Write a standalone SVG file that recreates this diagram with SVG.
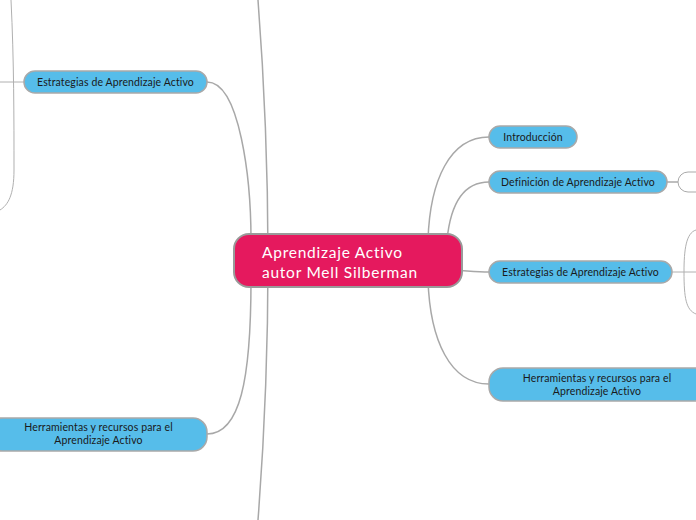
<svg xmlns="http://www.w3.org/2000/svg" width="696" height="520" viewBox="0 0 696 520">
<style>
.c{fill:none;stroke:#a8a8a8;stroke-width:1.5}
.t{fill:none;stroke:#b0b0b0;stroke-width:1}
.n{fill:#56bdea;stroke:#a9a9a9;stroke-width:1.5}
.e{fill:#ffffff;stroke:#a9a9a9;stroke-width:1}
.root{fill:#e5195e;stroke:#9a9a9a;stroke-width:2}
.lbl{font-family:Lato,"Liberation Sans",sans-serif;font-size:10.5px;letter-spacing:0.12px;fill:#1a1a1a}
.rl{font-family:Lato,"Liberation Sans",sans-serif;font-size:15.5px;letter-spacing:0.75px;fill:#ffffff}
</style>
<rect width="696" height="520" fill="#ffffff"/>
<g id="connectors">
<path class="c" d="M258,0 Q278,260 258,520"/>
<path class="c" d="M207,82 C240,82 251,180 251,240"/>
<path class="c" d="M251,280 C251,380 240,434 207,434"/>
<path class="t" d="M0,82 L24,82"/>
<path class="t" d="M11,0 C14,60 14,120 14,170 C14,195 8,205 0,210"/>
<path class="c" d="M489,137 C450,137 430,180 428,240"/>
<path class="c" d="M489,182 C460,182 450,210 447,240"/>
<path class="c" d="M455,270 C470,271 478,272 489,272"/>
<path class="c" d="M489,384 C450,384 430,340 428,280"/>
<path class="c" d="M667,182 L678,182"/>
<path class="t" d="M672,272 L696,272"/>
<path class="t" d="M696,230 C686,233 684,250 684,272 C684,298 686,310 696,314"/>
</g>
<g id="root">
<rect class="root" x="234" y="234" width="228" height="53" rx="15"/>
<text class="rl" x="262" y="258">Aprendizaje Activo</text>
<text class="rl" x="262" y="278">autor Mell Silberman</text>
</g>
<g id="left-estrategias">
<rect class="n" x="24" y="71" width="183" height="22" rx="11"/>
<text class="lbl" x="115.5" y="86" text-anchor="middle">Estrategias de Aprendizaje Activo</text>
</g>
<g id="left-herramientas">
<rect class="n" x="-12" y="418" width="219" height="33" rx="14"/>
<text class="lbl" x="98.5" y="431" text-anchor="middle">Herramientas y recursos para el</text>
<text class="lbl" x="98.5" y="444" text-anchor="middle">Aprendizaje Activo</text>
</g>
<g id="introduccion">
<rect class="n" x="489" y="126" width="88" height="22" rx="11"/>
<text class="lbl" x="533" y="141" text-anchor="middle">Introducción</text>
</g>
<g id="definicion">
<rect class="n" x="489" y="171" width="178" height="22" rx="11"/>
<text class="lbl" x="578" y="186" text-anchor="middle">Definición de Aprendizaje Activo</text>
</g>
<g id="definicion-child">
<rect class="e" x="678" y="172" width="60" height="20" rx="10"/>
</g>
<g id="right-estrategias">
<rect class="n" x="489" y="261" width="183" height="22" rx="11"/>
<text class="lbl" x="580.5" y="276" text-anchor="middle">Estrategias de Aprendizaje Activo</text>
</g>
<g id="right-herramientas">
<rect class="n" x="489" y="368" width="219" height="33" rx="14"/>
<text class="lbl" x="597" y="382" text-anchor="middle">Herramientas y recursos para el</text>
<text class="lbl" x="597" y="395" text-anchor="middle">Aprendizaje Activo</text>
</g>
</svg>
